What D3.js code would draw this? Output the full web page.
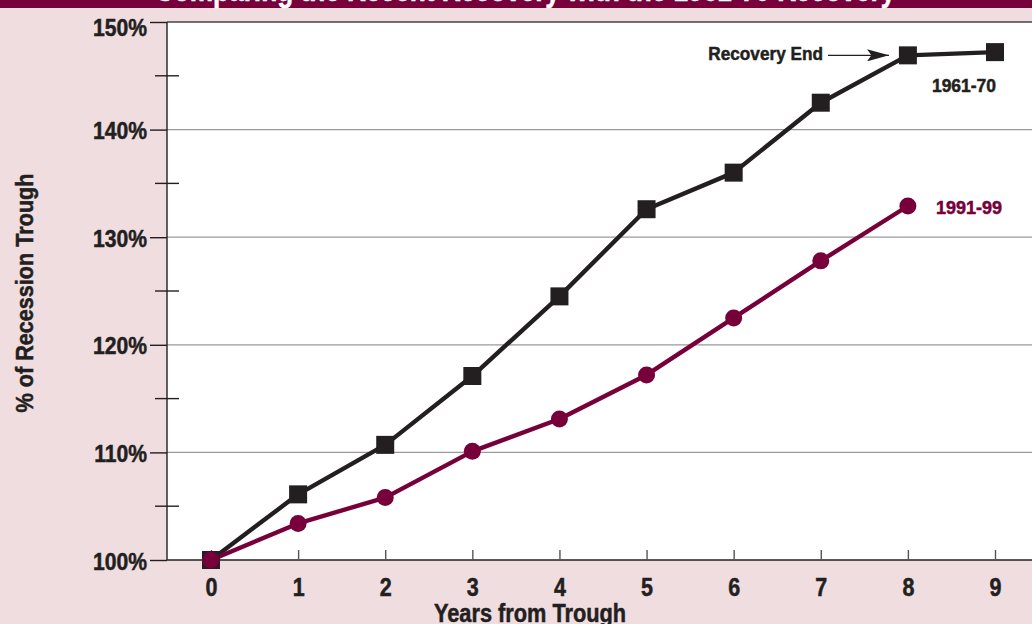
<!DOCTYPE html>
<html>
<head>
<meta charset="utf-8">
<script src="https://cdn.jsdelivr.net/npm/d3@7"></script>
<style>
  html, body { margin: 0; padding: 0; background: #efdde0; }
  svg { display: block; }
  text { font-family: "Liberation Sans", Arial, sans-serif; font-weight: bold; }
</style>
</head>
<body>
<svg id="chart" width="1032" height="624"></svg>
<script>
// Years after the recession trough
const years = [0, 1, 2, 3, 4, 5, 6, 7, 8, 9];
// Index level as % of the recession trough
const values6170 = [100, 106.1, 110.7, 117.1, 124.5, 132.6, 136.0, 142.5, 146.9, 147.2];
const values9199 = [100, 103.4, 105.8, 110.1, 113.1, 117.2, 122.5, 127.8, 132.9];
const yMajorTicks = [100, 110, 120, 130, 140, 150];
const yMinorTicks = [105, 115, 125, 135, 145];
const seriesNames = ["1961-70", "1991-99"];
const titleText = "Comparing the Recent Recovery with the 1961-70 Recovery";

const W = 1032, H = 624;
const maroon = "#78003a", ink = "#231f20", pink = "#efdde0";
const svg = d3.select("#chart");

// condensed-looking heavy text: bold face squeezed horizontally, lightly stroked
function narrowText(parent, x, y, str, size, squeeze, anchor, fill) {
  return parent.append("text")
    .attr("transform", `translate(${x},${y}) scale(${squeeze},1)`)
    .attr("text-anchor", anchor || "start")
    .attr("font-size", size)
    .attr("fill", fill || ink)
    .attr("stroke", fill || ink).attr("stroke-width", 0.5)
    .text(str);
}

// backgrounds
svg.append("rect").attr("width", W).attr("height", H).attr("fill", pink);
svg.append("rect").attr("width", W).attr("height", 8).attr("fill", maroon);
const plotLeft = 167, plotTop = 22, plotBottom = 560;
svg.append("rect").attr("x", plotLeft).attr("y", plotTop)
  .attr("width", W - plotLeft).attr("height", plotBottom - plotTop).attr("fill", "#fff");

// title in the banner (runs past the top edge)
narrowText(svg, 525, 0.5, titleText, 32, 0.82, "middle", "#fff");

const x = d3.scaleLinear().domain([0, 9]).range([211, 995]);
const y = d3.scaleLinear().domain([100, 150]).range([plotBottom, plotTop]);

// horizontal gridlines
svg.append("g").selectAll("line").data(yMajorTicks.filter(d => d > 100)).join("line")
  .attr("x1", plotLeft).attr("x2", W)
  .attr("y1", d => y(d)).attr("y2", d => y(d))
  .attr("stroke", d => d === 150 ? "#444" : "#9a9a9a")
  .attr("stroke-width", d => d === 150 ? 1.6 : 1.2);

// y axis
const yAxis = d3.axisLeft(y).tickValues(yMajorTicks).tickSize(17).tickPadding(4)
  .tickFormat(d => d + "%");
const gy = svg.append("g").attr("transform", `translate(${plotLeft},0)`).call(yAxis);
gy.select(".domain").attr("stroke", ink).attr("stroke-width", 1.4).attr("d", `M0,${plotTop}V${plotBottom}`);
gy.selectAll(".tick line").attr("stroke", ink).attr("stroke-width", 1.4);
gy.selectAll(".tick text")
  .attr("x", null).attr("dy", null)
  .attr("transform", d => `translate(-20,${d === 150 ? 13 : 9}) scale(0.88,1)`)
  .attr("fill", ink).attr("stroke", ink).attr("stroke-width", 0.5).attr("font-size", 24)
  .attr("font-family", "Liberation Sans, Arial, sans-serif")
  .attr("font-weight", "bold");

// minor y ticks straddle the axis
svg.append("g").selectAll("line").data(yMinorTicks).join("line")
  .attr("x1", plotLeft - 12).attr("x2", plotLeft + 12)
  .attr("y1", d => y(d)).attr("y2", d => y(d))
  .attr("stroke", ink).attr("stroke-width", 1.4);

// x axis
const xAxis = d3.axisBottom(x).tickValues(years).tickSize(0).tickPadding(12)
  .tickFormat(d3.format("d"));
const gx = svg.append("g").attr("transform", `translate(0,${plotBottom})`).call(xAxis);
gx.select(".domain").attr("stroke", ink).attr("stroke-width", 1.6).attr("d", `M${plotLeft},0H${W}`);
gx.selectAll(".tick text")
  .attr("y", null).attr("dy", null)
  .attr("transform", "translate(0,36) scale(0.86,1)")
  .attr("fill", ink).attr("stroke", ink).attr("stroke-width", 0.5).attr("font-size", 25)
  .attr("font-family", "Liberation Sans, Arial, sans-serif")
  .attr("font-weight", "bold");
gx.selectAll(".tick").append("line")
  .attr("y1", -10).attr("y2", 0).attr("stroke", "#555").attr("stroke-width", 1.4);

// axis titles
narrowText(svg, 530, 622, "Years from Trough", 25, 0.87, "middle");
narrowText(svg.append("g").attr("transform", "translate(33,293) rotate(-90)"),
  0, 0, "% of Recession Trough", 23, 0.94, "middle");

// series lines
const line = d3.line().x((d, i) => x(years[i])).y(d => y(d));
svg.append("path").datum(values6170).attr("d", line)
  .attr("fill", "none").attr("stroke", ink).attr("stroke-width", 4.4).attr("stroke-linejoin", "round");
svg.append("path").datum(values9199).attr("d", line)
  .attr("fill", "none").attr("stroke", maroon).attr("stroke-width", 4.4).attr("stroke-linejoin", "round");

// markers
const sq = 18;
svg.append("g").selectAll("rect").data(values6170).join("rect")
  .attr("x", (d, i) => x(years[i]) - sq / 2).attr("y", d => y(d) - sq / 2)
  .attr("width", sq).attr("height", sq).attr("fill", ink);
svg.append("g").selectAll("circle").data(values9199).join("circle")
  .attr("cx", (d, i) => x(years[i])).attr("cy", d => y(d)).attr("r", 8.5).attr("fill", maroon);

// series labels
narrowText(svg, 996, 92, seriesNames[0], 18, 0.97, "end");
narrowText(svg, 1002, 214, seriesNames[1], 18, 1.0, "end", maroon);

// recovery-end annotation
svg.append("defs").append("marker").attr("id", "arrow")
  .attr("viewBox", "0 0 10 10").attr("refX", 10).attr("refY", 5)
  .attr("markerWidth", 22).attr("markerHeight", 12).attr("markerUnits", "userSpaceOnUse")
  .attr("orient", "auto").attr("preserveAspectRatio", "none")
  .append("path").attr("d", "M0,0L10,5L0,10L2,5Z").attr("fill", ink);
narrowText(svg, 823, 60, "Recovery End", 18.5, 0.93, "end");
svg.append("line").attr("x1", 828).attr("x2", 889)
  .attr("y1", y(values6170[8])).attr("y2", y(values6170[8]))
  .attr("stroke", ink).attr("stroke-width", 1.4).attr("marker-end", "url(#arrow)");
</script>
</body>
</html>
